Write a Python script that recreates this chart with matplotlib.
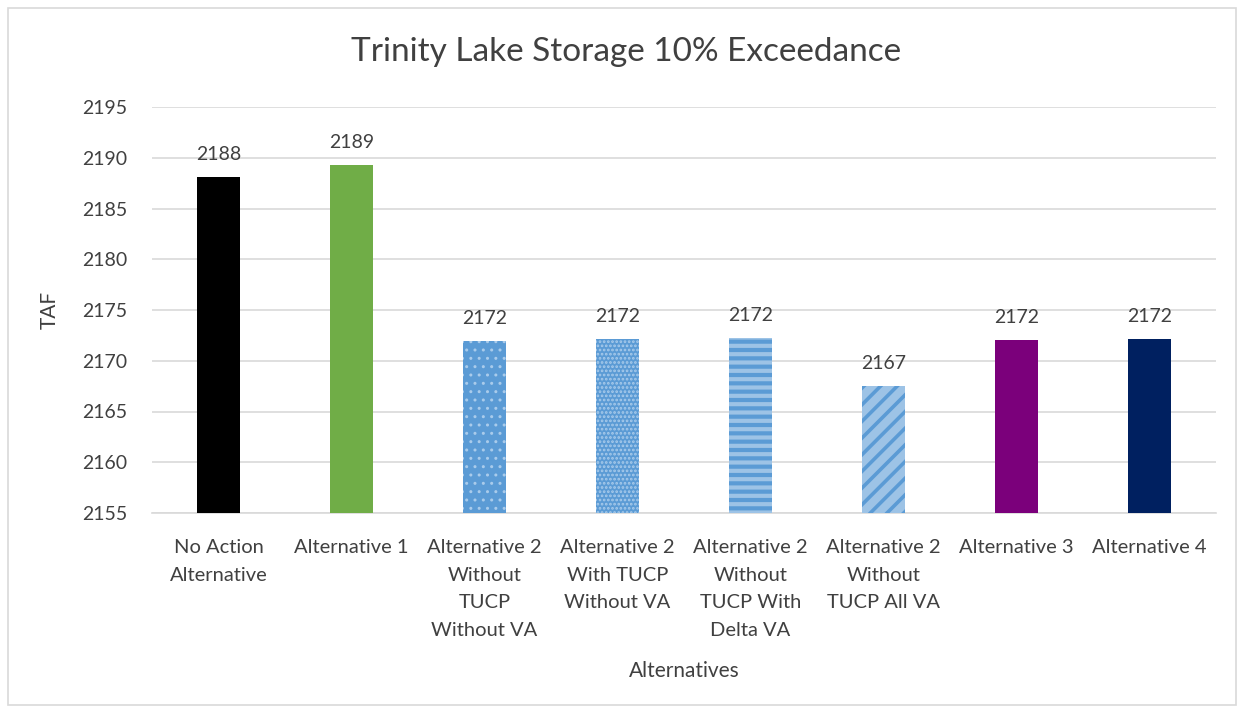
import matplotlib.pyplot as plt
from matplotlib.patches import Rectangle

# --- DATA ---
categories = [
    "No Action\nAlternative",
    "Alternative 1",
    "Alternative 2\nWithout\nTUCP\nWithout VA",
    "Alternative 2\nWith TUCP\nWithout VA",
    "Alternative 2\nWithout\nTUCP With\nDelta VA",
    "Alternative 2\nWithout\nTUCP All VA",
    "Alternative 3",
    "Alternative 4",
]
storage = [2188.1, 2189.3, 2171.9, 2172.1, 2172.2, 2167.5, 2172.0, 2172.1]
labels = ["2188", "2189", "2172", "2172", "2172", "2167", "2172", "2172"]
y_ticks = [2155, 2160, 2165, 2170, 2175, 2180, 2185, 2190, 2195]

# --- STYLES ---
BLUE = "#5B9BD5"
LIGHT = "#9DC3E6"
face_colors = ["#000000", "#70AD47", BLUE, BLUE, BLUE, LIGHT, "#7B007B", "#002060"]
hatch_colors = [None, None, "#A9CBEB", "#A9CBEB", LIGHT, BLUE, None, None]
hatches = [None, None, "..", "....", "--", "//", None, None]
hatch_widths = [1, 1, 1, 1.3, 3.0, 2.6, 1, 1]

plt.rcParams['font.family'] = ['Lato', 'DejaVu Sans']
TEXT = "#404040"

fig = plt.figure(figsize=(12.44, 7.13), dpi=100)
ax = fig.add_axes([152 / 1244, 1 - 513 / 713, (1216 - 152) / 1244, (513 - 107) / 713])

x = range(len(categories))
bars = ax.bar(x, [v - 2155 for v in storage], bottom=2155, width=0.32,
              color=face_colors, linewidth=0, zorder=3)
for b, h, hc, hw in zip(bars, hatches, hatch_colors, hatch_widths):
    if h:
        b.set_hatch(h)
        b.set_edgecolor(hc)
        b.set_linewidth(0)
        if hasattr(b, "set_hatch_linewidth"):
            b.set_hatch_linewidth(hw)

for xi, v, lab in zip(x, storage, labels):
    ax.text(xi, v + 1.4, lab, ha="center", va="bottom", fontsize=14, color=TEXT)

ax.set_ylim(2155, 2195)
ax.set_xlim(-0.5, len(categories) - 0.5)
ax.set_yticks(y_ticks)
ax.set_xticks(list(x))
ax.set_xticklabels(categories, fontsize=14.5, color=TEXT, linespacing=1.75, va="top")
ax.tick_params(axis="y", labelsize=14, labelcolor=TEXT, length=0, pad=18)
ax.tick_params(axis="x", length=0, pad=19)
ax.grid(axis="y", color="#D9D9D9", linewidth=1.2, zorder=0)
for s in ["top", "right", "left"]:
    ax.spines[s].set_visible(False)
ax.spines["bottom"].set_color("#D9D9D9")
ax.spines["bottom"].set_linewidth(1.2)

ax.set_ylabel("TAF", fontsize=15, color=TEXT, labelpad=16)
ax.set_xlabel("Alternatives", fontsize=15, color=TEXT, labelpad=16)
fig.text(626 / 1244, 1 - 52 / 713, "Trinity Lake Storage 10% Exceedance",
         ha="center", va="center", fontsize=24, color=TEXT)

fig.patches.append(Rectangle((8 / 1244, 8 / 713), 1228 / 1244, 697 / 713,
                             transform=fig.transFigure, fill=False,
                             edgecolor="#D9D9D9", linewidth=1.2))

fig.savefig("out.png", dpi=100, facecolor="white")
